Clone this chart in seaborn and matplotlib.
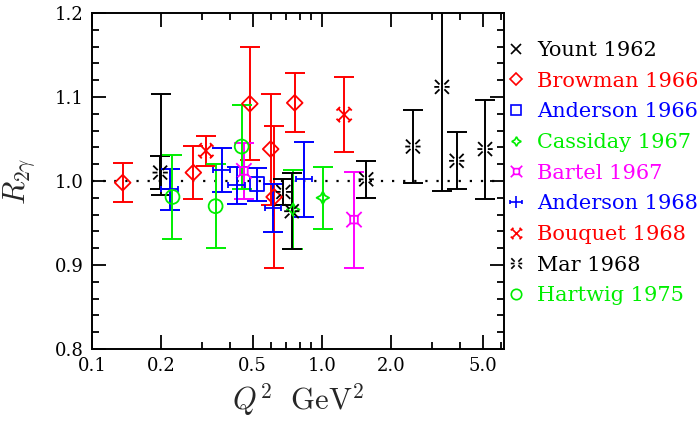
import matplotlib
matplotlib.use("Agg")
import matplotlib.pyplot as plt
import numpy as np
import pandas as pd
import seaborn as sns
from matplotlib.lines import Line2D
from matplotlib.path import Path
from matplotlib.ticker import FixedLocator, MultipleLocator, NullFormatter

# data (Q^2 in GeV^2, R_2gamma, +/- error)
yount_q2 = [0.200]
yount_r = [1.043]
yount_err = [0.060]

browman_q2 = [0.136, 0.276, 0.486, 0.599, 0.620, 0.762]
browman_r = [0.998, 1.010, 1.092, 1.038, 0.981, 1.093]
browman_err = [0.023, 0.032, 0.067, 0.066, 0.084, 0.035]

anderson66_q2 = [0.524]
anderson66_r = [0.996]
anderson66_err = [0.020]

cassiday_q2 = [0.750, 1.010]
cassiday_r = [0.966, 0.980]
cassiday_err = [0.047, 0.037]

bartel_q2 = [0.458, 1.380]
bartel_r = [1.012, 0.954]
bartel_err = [0.033, 0.057]

anderson68_q2 = [0.218, 0.367, 0.426, 0.614, 0.837]
anderson68_r = [0.990, 1.013, 0.995, 0.968, 1.002]
anderson68_err = [0.024, 0.026, 0.022, 0.029, 0.045]

bouquet_q2 = [0.313, 1.250]
bouquet_r = [1.036, 1.079]
bouquet_err = [0.018, 0.045]

mar_q2 = [0.198, 0.680, 0.740, 1.560, 2.490, 3.330, 3.860, 5.130]
mar_r = [1.010, 0.987, 0.964, 1.002, 1.041, 1.112, 1.024, 1.038]
mar_err = [0.020, 0.015, 0.045, 0.022, 0.043, 0.124, 0.034, 0.059]

hartwig_q2 = [0.224, 0.345, 0.448]
hartwig_r = [0.981, 0.970, 1.041]
hartwig_err = [0.050, 0.050, 0.050]

x_ticks = [0.1, 0.2, 0.5, 1.0, 2.0, 5.0]
x_ticklabels = ["0.1", "0.2", "0.5", "1.0", "2.0", "5.0"]


def segments_marker(segs):
    verts, codes = [], []
    for a, b in segs:
        verts += [a, b]
        codes += [Path.MOVETO, Path.LINETO]
    return Path(verts, codes)


# little line-art symbols like the original plotting package
cross_bar = segments_marker([
    ((0, -1), (0, 1)), ((-1, 0), (1, 0)),
    ((-1, -0.35), (-1, 0.35)), ((1, -0.35), (1, 0.35)),
])
square_x = segments_marker([
    ((-0.5, -0.5), (0.5, -0.5)), ((0.5, -0.5), (0.5, 0.5)),
    ((0.5, 0.5), (-0.5, 0.5)), ((-0.5, 0.5), (-0.5, -0.5)),
    ((0.5, 0.5), (1, 1)), ((-0.5, 0.5), (-1, 1)),
    ((0.5, -0.5), (1, -1)), ((-0.5, -0.5), (-1, -1)),
])
capped_x = segments_marker([
    ((-1, -1), (1, 1)), ((-1, 1), (1, -1)),
    ((0.7, 1.3), (1.3, 0.7)), ((-0.7, 1.3), (-1.3, 0.7)),
    ((0.7, -1.3), (1.3, -0.7)), ((-0.7, -1.3), (-1.3, -0.7)),
])
split_star = segments_marker([
    ((0.35, 0.35), (1, 1)), ((-0.35, 0.35), (-1, 1)),
    ((0.35, -0.35), (1, -1)), ((-0.35, -0.35), (-1, -1)),
    ((0.4, 0), (1.1, 0)), ((-0.4, 0), (-1.1, 0)),
])

series = [
    ("Yount 1962", yount_q2, yount_r, yount_err, "black", "x", 9),
    ("Browman 1966", browman_q2, browman_r, browman_err, "#ff0000", "D", 8),
    ("Anderson 1966", anderson66_q2, anderson66_r, anderson66_err, "#0000ff", "s", 10),
    ("Cassiday 1967", cassiday_q2, cassiday_r, cassiday_err, "#00ee00", (4, 1, 0), 9),
    ("Bartel 1967", bartel_q2, bartel_r, bartel_err, "#ff00ff", square_x, 11),
    ("Anderson 1968", anderson68_q2, anderson68_r, anderson68_err, "#0000ff", cross_bar, 12),
    ("Bouquet 1968", bouquet_q2, bouquet_r, bouquet_err, "#ff0000", capped_x, 11),
    ("Mar 1968", mar_q2, mar_r, mar_err, "black", split_star, 11),
    ("Hartwig 1975", hartwig_q2, hartwig_r, hartwig_err, "#00ee00", "o", 10),
]

sns.set_theme(style="ticks")
plt.rcParams["font.family"] = ["DejaVu Serif"]
plt.rcParams["mathtext.fontset"] = "cm"

fig = plt.figure(figsize=(7.0, 4.3), dpi=100)
ax = fig.add_axes([0.1314, 0.1884, 0.5886, 0.7814])

ax.axhline(1.0, color="black", linestyle=(0, (1, 4)), linewidth=1.6, zorder=1)

handles = []
for name, q2, r, err, color, marker, ms in series:
    df = pd.DataFrame({"q2": q2, "r": r, "err": err})
    ax.errorbar(df["q2"], df["r"], yerr=df["err"], fmt="none", ecolor=color,
                elinewidth=1.4, capsize=7, capthick=1.4, zorder=2)
    sns.scatterplot(data=df, x="q2", y="r", ax=ax, marker=marker, s=ms ** 2,
                    facecolor="none", edgecolor=color, linewidth=1.3,
                    zorder=3, legend=False)
    handles.append(Line2D([], [], linestyle="none", marker=marker, markersize=ms * 0.75,
                          markerfacecolor="none", markeredgecolor=color,
                          markeredgewidth=1.2, label=name))

ax.set_xscale("log")
ax.set_xlim(0.1, 6.2)
ax.set_ylim(0.8, 1.2)

ax.xaxis.set_major_locator(FixedLocator(x_ticks))
ax.set_xticklabels(x_ticklabels)
ax.xaxis.set_minor_locator(FixedLocator([0.3, 0.4, 0.6, 0.7, 0.8, 0.9, 3.0, 4.0, 6.0]))
ax.xaxis.set_minor_formatter(NullFormatter())
ax.yaxis.set_major_locator(MultipleLocator(0.1))
ax.yaxis.set_minor_locator(MultipleLocator(0.02))
ax.set_yticks([0.8, 0.9, 1.0, 1.1, 1.2])
ax.set_yticklabels(["0.8", "0.9", "1.0", "1.1", "1.2"])

ax.tick_params(which="both", direction="in", top=True, right=True,
               color="black", width=1.3, labelsize=13, labelcolor="black", pad=6)
ax.tick_params(which="major", length=10)
ax.tick_params(which="minor", length=5)
for s in ax.spines.values():
    s.set_color("black")
    s.set_linewidth(1.4)
ax.grid(False)

ax.set_xlabel(r"$Q^2\ \ \mathrm{GeV}^2$", fontsize=22, labelpad=4)
ax.set_ylabel(r"$R_{2\gamma}$", fontsize=22, labelpad=12)

leg = ax.legend(handles=handles, loc="upper left", bbox_to_anchor=(1.005, 0.917),
                frameon=False, fontsize=15, handlelength=1.0, handletextpad=0.5,
                labelspacing=0.56, borderaxespad=0.0, borderpad=0.0)
for txt, (_, _, _, _, color, _, _) in zip(leg.get_texts(), series):
    txt.set_color(color)

fig.savefig("out.png", dpi=100)
